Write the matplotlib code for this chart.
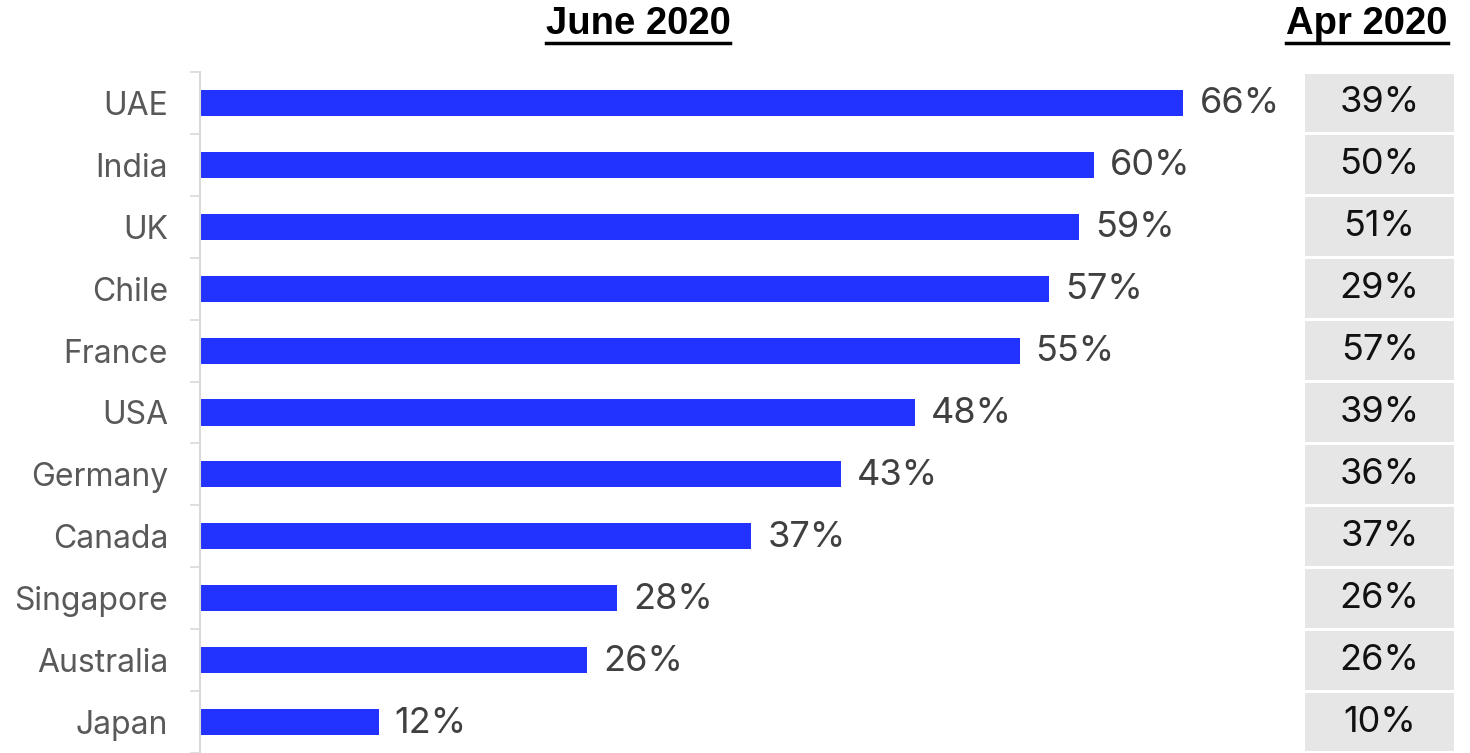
import matplotlib.pyplot as plt
import numpy as np
from matplotlib.lines import Line2D

countries = ["UAE", "India", "UK", "Chile", "France", "USA", "Germany",
             "Canada", "Singapore", "Australia", "Japan"]
june_2020 = [66, 60, 59, 57, 55, 48, 43, 37, 28, 26, 12]
apr_2020 = [39, 50, 51, 29, 57, 39, 36, 37, 26, 26, 10]

BLUE = "#2233ff"
GRID = "#d9d9d9"

W, H = 1470, 753
fig = plt.figure(figsize=(W / 100, H / 100), dpi=100)

# bar panel: zero at x=200px, 14.9px per percentage point
px_per_pct = 14.9
ax_left, ax_width = 200, 1080
ax = fig.add_axes([ax_left / W, 0, ax_width / W, 1 - 72 / H])
y = np.arange(len(countries))
ax.barh(y, june_2020, height=0.42, color=BLUE)
ax.set_xlim(0, ax_width / px_per_pct)
ax.set_ylim(len(countries) - 0.5, -0.5)

for yi, v in zip(y, june_2020):
    ax.annotate(f"{v}%", (v, yi), xytext=(16, -1), textcoords="offset pixels",
                ha="left", va="center", fontsize=26, color="#404040",
                family="Inter")

ax.set_yticks(y)
ax.set_yticklabels(countries, family="Inter", fontsize=23, color="#595959")
ax.set_yticks(np.arange(len(countries) + 1) - 0.5, minor=True)
ax.tick_params(axis="y", which="major", length=0, pad=23)
ax.tick_params(axis="y", which="minor", length=7, width=1.2, color=GRID)
ax.set_xticks([])
for side in ["top", "right", "bottom"]:
    ax.spines[side].set_visible(False)
ax.spines["left"].set_color(GRID)
ax.spines["left"].set_linewidth(1.5)

# April column as a grey table beside the bars
tab_left, tab_right = 1305, 1454
tab = fig.add_axes([tab_left / W, 0, (tab_right - tab_left) / W, 1 - 72 / H])
tab.barh(y, [1] * len(y), height=0.95, color="#e6e6e6", left=0)
tab.set_xlim(0, 1)
tab.set_ylim(len(countries) - 0.5, -0.5)
for yi, v in zip(y, apr_2020):
    tab.text(0.5, yi, f"{v}%", ha="center", va="center", fontsize=26,
             color="#111111", family="Inter")
tab.axis("off")

# underlined column headers
fig.canvas.draw()
renderer = fig.canvas.get_renderer()
for label, xc in [("June 2020", 638), ("Apr 2020", 1367)]:
    t = fig.text(xc / W, 1 - 24 / H, label, ha="center", va="center",
                 fontsize=27.5, fontweight="bold", family="Liberation Sans",
                 color="black")
    bb = t.get_window_extent(renderer)
    uy = (H - 43) / H
    fig.add_artist(Line2D([bb.x0 / W, bb.x1 / W], [uy, uy], color="black",
                          linewidth=2.5, transform=fig.transFigure))

fig.savefig("out.png", dpi=100)
